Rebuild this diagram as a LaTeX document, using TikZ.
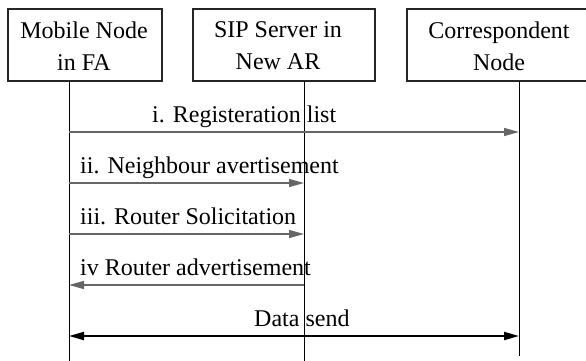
\documentclass[tikz,border=0pt]{standalone}
\usepackage{fontspec}
\setmainfont{Liberation Serif}
\usetikzlibrary{arrows.meta}
\begin{document}
\begin{tikzpicture}[x=1pt,y=-1pt,
  box/.style={draw=black!85,line width=1.1pt,minimum height=72pt,inner sep=0pt},
  lbl/.style={align=center,inner sep=0pt,font=\fontsize{24}{32}\selectfont},
  msg/.style={anchor=base west,inner sep=0pt,font=\fontsize{24}{28}\selectfont},
  life/.style={draw=black,line width=0.9pt},
  arr/.style={draw=black!60,line width=1.4pt,-{Triangle[length=15pt,width=8pt]}},
  darr/.style={draw=black,line width=2pt,{Triangle[length=15pt,width=8pt]}-{Triangle[length=15pt,width=8pt]}}]
\useasboundingbox (0,0) rectangle (586,360);
\clip (0,0) rectangle (586,360);
% boxes
\node[box,minimum width=154pt] (b1) at (85,45) {};
\node[box,minimum width=182pt] (b2) at (284,45) {};
\node[box,minimum width=188pt] (b3) at (501,45) {};
\node[lbl] (t1) at (84,46) {Mobile Node\\in FA};
\node[lbl] (t2) at (278,46) {SIP Server in\\New AR};
\node[lbl] (t3) at (499,46) {Correspondent\\Node};
% lifelines
\coordinate (l1t) at (69,81);  \coordinate (l1b) at (69,362);
\coordinate (l2t) at (304,81); \coordinate (l2b) at (304,362);
\coordinate (l3t) at (519,81); \coordinate (l3b) at (519,356);
\draw[life] (l1t) -- (l1b);
\draw[life] (l2t) -- (l2b);
\draw[life] (l3t) -- (l3b);
% message end points
\coordinate (m1a) at (69,132); \coordinate (m1b) at (519,132);
\coordinate (m2a) at (69,183); \coordinate (m2b) at (304,183);
\coordinate (m3a) at (69,234); \coordinate (m3b) at (304,234);
\coordinate (m4a) at (304,285); \coordinate (m4b) at (69,285);
\coordinate (m5a) at (69,336); \coordinate (m5b) at (519,336);
\draw[arr] (m1a) -- (m1b);
\draw[arr] (m2a) -- (m2b);
\draw[arr] (m3a) -- (m3b);
\draw[arr] (m4a) -- (m4b);
\draw[darr] (m5a) -- (m5b);
% labels
\node[msg] (x1) at (152,122) {i. Registeration list};
\node[msg] (x2) at (80,173) {ii. Neighbour avertisement};
\node[msg] (x3) at (80,224) {iii. Router Solicitation};
\node[msg] (x4) at (80,275) {iv Router advertisement};
\node[msg] (x5) at (254,326) {Data send};
\end{tikzpicture}
\end{document}
